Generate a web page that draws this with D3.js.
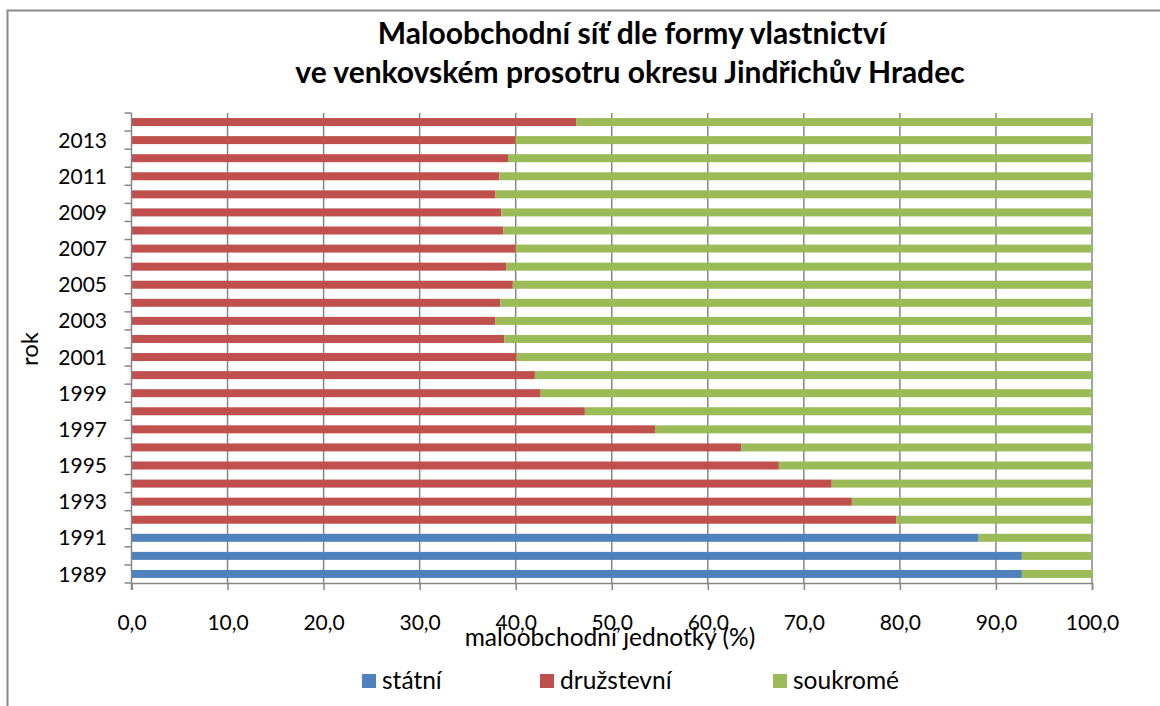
<!DOCTYPE html>
<html>
<head>
<meta charset="utf-8">
<script src="https://cdn.jsdelivr.net/npm/d3@7"></script>
<style>
  body { margin: 0; background: #fff; }
  svg { display: block; font-family: Lato, "Open Sans", sans-serif; }
</style>
</head>
<body>
<svg id="chart"></svg>
<script>
// years from bottom (1989) to top (2014)
const years = d3.range(1989, 2015).map(String)
const statni = [92.7, 92.7, 88.2, 0, 0, 0, 0, 0, 0, 0, 0, 0, 0, 0, 0, 0, 0, 0, 0, 0, 0, 0, 0, 0, 0, 0]
const druzstevni = [0, 0, 0, 79.6, 75.0, 72.9, 67.4, 63.5, 54.5, 47.2, 42.6, 42.0, 40.1, 38.8, 37.9, 38.4, 39.7, 39.0, 40.0, 38.7, 38.5, 37.9, 38.3, 39.2, 40.0, 46.3]
const soukrome = [7.3, 7.3, 11.8, 20.4, 25.0, 27.1, 32.6, 36.5, 45.5, 52.8, 57.4, 58.0, 59.9, 61.2, 62.1, 61.6, 60.3, 61.0, 60.0, 61.3, 61.5, 62.1, 61.7, 60.8, 60.0, 53.7]
const seriesNames = ['státní', 'družstevní', 'soukromé']
const colors = ['#4f81bd', '#c0504d', '#9bbb59']
const xTicks = [0, 10, 20, 30, 40, 50, 60, 70, 80, 90, 100]

const W = 1160, H = 706
const margin = {left: 131.5, right: 68, top: 113, bottom: 123}

const svg = d3.select('#chart').attr('width', W).attr('height', H)

// outer frame
svg.append('rect')
  .attr('x', 7.5).attr('y', 10.5)
  .attr('width', W).attr('height', H)
  .attr('fill', 'none').attr('stroke', '#898989').attr('stroke-width', 2)

const table = years.map((y, i) => ({year: y, 'státní': statni[i], 'družstevní': druzstevni[i], 'soukromé': soukrome[i]}))
const stack = d3.stack().keys(seriesNames)(table)

const x = d3.scaleLinear().domain([0, 100]).range([margin.left, W - margin.right])
const y = d3.scaleBand().domain(years.slice().reverse()).range([margin.top, H - margin.bottom]).padding(0)
const barH = 8

// gridlines
svg.append('g').selectAll('line')
  .data(xTicks.slice(1))
  .join('line')
  .attr('x1', d => x(d)).attr('x2', d => x(d))
  .attr('y1', margin.top).attr('y2', H - margin.bottom)
  .attr('stroke', '#868686').attr('stroke-width', 1.5)

// bars
svg.append('g').selectAll('g')
  .data(stack)
  .join('g')
  .attr('fill', (d, i) => colors[i])
  .selectAll('rect')
  .data(d => d.filter(p => p[1] - p[0] > 0))
  .join('rect')
  .attr('x', d => x(d[0]))
  .attr('width', d => x(d[1]) - x(d[0]))
  .attr('y', d => y(d.data.year) + (y.bandwidth() - barH) / 2)
  .attr('height', barH)

// y axis with tick marks at category boundaries
const yAxisG = svg.append('g').attr('stroke', '#868686').attr('stroke-width', 1.5)
yAxisG.append('line')
  .attr('x1', x(0)).attr('x2', x(0))
  .attr('y1', margin.top).attr('y2', H - margin.bottom + 7)
const bounds = y.domain().map(d => y(d)).concat([H - margin.bottom])
yAxisG.selectAll('line.t')
  .data(bounds)
  .join('line').attr('class', 't')
  .attr('x1', x(0) - 7).attr('x2', x(0))
  .attr('y1', d => d).attr('y2', d => d)

svg.append('g').selectAll('text')
  .data(years.filter((d, i) => i % 2 === 0))
  .join('text')
  .attr('x', 107)
  .attr('y', d => y(d) + y.bandwidth() / 2)
  .attr('dy', '0.36em')
  .attr('text-anchor', 'end')
  .attr('font-size', 21)
  .attr('fill', '#000')
  .text(d => d)

// x axis
const xAxis = d3.axisBottom(x).tickValues(xTicks).tickSize(7).tickPadding(25)
  .tickFormat(d => d3.format('.1f')(d).replace('.', ','))
const xg = svg.append('g').attr('transform', `translate(0,${H - margin.bottom})`).call(xAxis)
xg.select('.domain').attr('stroke', '#868686').attr('stroke-width', 1.5)
xg.selectAll('.tick line').attr('stroke', '#868686').attr('stroke-width', 1.5)
xg.selectAll('.tick text').attr('font-size', 21).attr('fill', '#000').attr('font-family', 'Lato, sans-serif')

// titles
svg.append('text')
  .attr('x', 632).attr('y', 44)
  .attr('text-anchor', 'middle').attr('font-size', 30).attr('font-weight', 'bold')
  .text('Maloobchodní síť dle formy vlastnictví')
svg.append('text')
  .attr('x', 630).attr('y', 83)
  .attr('text-anchor', 'middle').attr('font-size', 30).attr('font-weight', 'bold')
  .text('ve venkovském prosotru okresu Jindřichův Hradec')

svg.append('text')
  .attr('x', 610).attr('y', 646)
  .attr('text-anchor', 'middle').attr('font-size', 24.5)
  .text('maloobchodní jednotky (%)')

svg.append('text')
  .attr('transform', 'translate(38,349) rotate(-90)')
  .attr('text-anchor', 'middle').attr('font-size', 24)
  .text('rok')

// legend
const legendX = [362, 540, 773]
const lg = svg.append('g').selectAll('g')
  .data(seriesNames)
  .join('g')
  .attr('transform', (d, i) => `translate(${legendX[i]},674)`)
lg.append('rect').attr('width', 14).attr('height', 14).attr('fill', (d, i) => colors[i])
lg.append('text').attr('x', 20).attr('y', 15).attr('font-size', 24.5).text(d => d)
</script>
</body>
</html>
